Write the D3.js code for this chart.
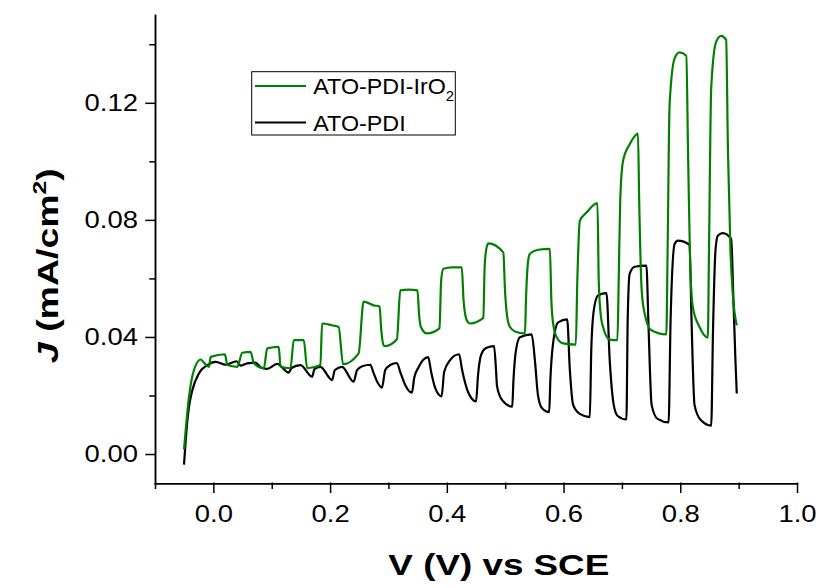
<!DOCTYPE html>
<html>
<head>
<meta charset="utf-8">
<script src="https://cdn.jsdelivr.net/npm/d3@7"></script>
<style>
    body { margin: 0; background: #fff; }
    svg text { font-family: "Liberation Sans", Arial, sans-serif; }
</style>
</head>
<body>
<div id="app"></div>
<script>
// ATO-PDI-IrO2 (green), potential in V vs SCE and current density in mA/cm2
const vIrO2 = [-0.0503, -0.0417, -0.0332, -0.0217, -0.0161, -0.0075, -0.0046, 0.0198, 0.0239, 0.0410,
    0.0496, 0.0638, 0.0694, 0.0865, 0.0923, 0.1121, 0.1150, 0.1321, 0.1378, 0.1549,
    0.1607, 0.1834, 0.1863, 0.2034, 0.2147, 0.2222, 0.2489, 0.2574, 0.2745, 0.2848,
    0.2877, 0.2916, 0.2945, 0.3145, 0.3202, 0.3344, 0.3497, 0.3526, 0.3556, 0.3658,
    0.3874, 0.3903, 0.3942, 0.4085, 0.4256, 0.4287, 0.4342, 0.4398, 0.4626, 0.4646,
    0.4672, 0.4711, 0.4968, 0.4997, 0.5031, 0.5082, 0.5168, 0.5339, 0.5356, 0.5390,
    0.5424, 0.5566, 0.5766, 0.5791, 0.5826, 0.5880, 0.5993, 0.6210, 0.6236, 0.6279,
    0.6393, 0.6581, 0.6603, 0.6638, 0.6677, 0.6791, 0.6923, 0.6945, 0.6971, 0.7019,
    0.7133, 0.7275, 0.7296, 0.7339, 0.7390, 0.7504, 0.7761, 0.7783, 0.7817, 0.7903,
    0.7988, 0.8103, 0.8133, 0.8168, 0.8215, 0.8330, 0.8472, 0.8492, 0.8530, 0.8615,
    0.8701, 0.8786, 0.8817, 0.8860, 0.8899, 0.8968];
const jIrO2 = [0.0015, 0.0196, 0.0287, 0.0323, 0.0312, 0.0298, 0.0332, 0.0341, 0.0304, 0.0298,
    0.0346, 0.0349, 0.0310, 0.0293, 0.0361, 0.0366, 0.0298, 0.0293, 0.0389, 0.0389,
    0.0293, 0.0304, 0.0446, 0.0440, 0.0434, 0.0307, 0.0344, 0.0521, 0.0508, 0.0504,
    0.0423, 0.0372, 0.0369, 0.0392, 0.0559, 0.0562, 0.0559, 0.0474, 0.0434, 0.0412,
    0.0429, 0.0593, 0.0633, 0.0638, 0.0638, 0.0525, 0.0457, 0.0446, 0.0465, 0.0627,
    0.0695, 0.0720, 0.0689, 0.0559, 0.0474, 0.0434, 0.0419, 0.0412, 0.0525, 0.0654,
    0.0684, 0.0698, 0.0701, 0.0525, 0.0440, 0.0400, 0.0378, 0.0374, 0.0593, 0.0797,
    0.0825, 0.0857, 0.0593, 0.0474, 0.0434, 0.0391, 0.0389, 0.0593, 0.0865, 0.1001,
    0.1058, 0.1095, 0.0865, 0.0559, 0.0480, 0.0423, 0.0409, 0.0695, 0.1194, 0.1352,
    0.1372, 0.1361, 0.1035, 0.0661, 0.0502, 0.0434, 0.0398, 0.0695, 0.1250, 0.1409,
    0.1429, 0.1415, 0.1035, 0.0695, 0.0548, 0.0440];

// ATO-PDI (black)
const vPDI = [-0.0503, -0.0444, -0.0417, -0.0359, -0.0246, -0.0103, 0.0039, 0.0210, 0.0398, 0.0467,
    0.0581, 0.0723, 0.0809, 0.0923, 0.1094, 0.1292, 0.1338, 0.1492, 0.1692, 0.1732,
    0.1834, 0.2034, 0.2082, 0.2205, 0.2403, 0.2462, 0.2552, 0.2689, 0.2740, 0.2809,
    0.2889, 0.2945, 0.3031, 0.3145, 0.3202, 0.3287, 0.3402, 0.3441, 0.3509, 0.3680,
    0.3732, 0.3800, 0.3911, 0.3954, 0.4056, 0.4210, 0.4262, 0.4364, 0.4501, 0.4535,
    0.4586, 0.4672, 0.4809, 0.4843, 0.4860, 0.4945, 0.5121, 0.5142, 0.5185, 0.5253,
    0.5453, 0.5509, 0.5561, 0.5629, 0.5754, 0.5774, 0.5817, 0.5908, 0.6062, 0.6108,
    0.6164, 0.6279, 0.6450, 0.6475, 0.6518, 0.6591, 0.6735, 0.6791, 0.6860, 0.6928,
    0.7077, 0.7099, 0.7133, 0.7219, 0.7419, 0.7458, 0.7509, 0.7612, 0.7800, 0.7834,
    0.7903, 0.7959, 0.8159, 0.8193, 0.8244, 0.8347, 0.8530, 0.8561, 0.8603, 0.8643,
    0.8728, 0.8872, 0.8911, 0.8945, 0.8968];
const jPDI = [-0.0036, 0.0117, 0.0162, 0.0219, 0.0276, 0.0304, 0.0315, 0.0305, 0.0317, 0.0302,
    0.0310, 0.0312, 0.0297, 0.0291, 0.0308, 0.0278, 0.0294, 0.0304, 0.0264, 0.0290,
    0.0298, 0.0253, 0.0287, 0.0298, 0.0247, 0.0287, 0.0300, 0.0305, 0.0280, 0.0246,
    0.0227, 0.0287, 0.0304, 0.0311, 0.0280, 0.0236, 0.0210, 0.0260, 0.0294, 0.0331,
    0.0280, 0.0226, 0.0197, 0.0280, 0.0321, 0.0341, 0.0287, 0.0212, 0.0180, 0.0270,
    0.0338, 0.0362, 0.0369, 0.0287, 0.0232, 0.0185, 0.0162, 0.0253, 0.0355, 0.0399,
    0.0409, 0.0321, 0.0202, 0.0157, 0.0143, 0.0253, 0.0372, 0.0450, 0.0460, 0.0287,
    0.0168, 0.0137, 0.0126, 0.0355, 0.0491, 0.0542, 0.0550, 0.0321, 0.0168, 0.0130,
    0.0118, 0.0457, 0.0616, 0.0640, 0.0644, 0.0423, 0.0168, 0.0120, 0.0108, 0.0457,
    0.0718, 0.0729, 0.0715, 0.0457, 0.0168, 0.0117, 0.0097, 0.0423, 0.0695, 0.0746,
    0.0755, 0.0735, 0.0525, 0.0321, 0.0207];

const xMajor = [0.0, 0.2, 0.4, 0.6, 0.8, 1.0];
const xMinor = [-0.1, 0.1, 0.3, 0.5, 0.7, 0.9];
const yMajor = [0.00, 0.04, 0.08, 0.12];
const yMinor = [0.02, 0.06, 0.10, 0.14];
const seriesNames = ["ATO-PDI-IrO", "ATO-PDI"];
const seriesSub = ["2", ""];
const seriesColors = ["#008000", "#000000"];

const W = 816, H = 588;
const m = { t: 15, r: 19, b: 105, l: 155 };
const axisY = 483.3;

const svg = d3.select("#app").append("svg")
    .attr("width", W)
    .attr("height", H);

const xScale = d3.scaleLinear().domain([-0.1, 1.0]).range([m.l, W - m.r]);
const yScale = d3.scaleLinear().domain([-0.01, 0.15]).range([axisY, m.t]);

// horizontal factor that makes a text node span `target` px
function widen(node, target) {
    const w = node.getComputedTextLength();
    return target / w;
}

// ---- axes
const xAxisG = svg.append("g")
    .attr("transform", "translate(0," + axisY + ")")
    .call(d3.axisBottom(xScale).tickValues(xMajor).tickSize(9).tickSizeOuter(0)
        .tickPadding(12).tickFormat(d3.format(".1f")));
svg.append("g")
    .attr("transform", "translate(0," + axisY + ")")
    .call(d3.axisBottom(xScale).tickValues(xMinor).tickSize(5).tickSizeOuter(0).tickFormat(""));

const yAxisG = svg.append("g")
    .attr("transform", "translate(" + m.l + ",0)")
    .call(d3.axisLeft(yScale).tickValues(yMajor).tickSize(9).tickSizeOuter(0)
        .tickPadding(9).tickFormat(d3.format(".2f")));
svg.append("g")
    .attr("transform", "translate(" + m.l + ",0)")
    .call(d3.axisLeft(yScale).tickValues(yMinor).tickSize(5).tickSizeOuter(0).tickFormat(""));

svg.selectAll(".domain, .tick line")
    .attr("stroke", "#000")
    .attr("stroke-width", 1.5)
    .attr("stroke-linecap", "square");

svg.selectAll(".tick text")
    .attr("font-family", "Liberation Sans, Arial, sans-serif")
    .attr("font-size", 24.5)
    .attr("fill", "#000");

xAxisG.selectAll(".tick text")
    .attr("transform", "scale(1.12,1)");
yAxisG.selectAll(".tick text")
    .attr("x", 0)
    .attr("transform", "translate(-17,0) scale(1.12,1)");

// ---- curves
const line = d3.line()
    .x(d => xScale(d[0]))
    .y(d => yScale(d[1]))
    .curve(d3.curveMonotoneX);

const seriesData = [
    vIrO2.map((v, i) => [v, jIrO2[i]]),
    vPDI.map((v, i) => [v, jPDI[i]])
];

// black first so the green sits on top like the original
[1, 0].forEach(k => {
    svg.append("path")
        .datum(seriesData[k])
        .attr("fill", "none")
        .attr("stroke", seriesColors[k])
        .attr("stroke-width", 2.2)
        .attr("stroke-linejoin", "round")
        .attr("d", line);
});

// ---- legend
const legend = svg.append("g").attr("id", "legend");
legend.append("rect")
    .attr("x", 251.7).attr("y", 71.7)
    .attr("width", 203.6).attr("height", 63.3)
    .attr("fill", "#fff")
    .attr("stroke", "#000")
    .attr("stroke-width", 1);

seriesNames.forEach((name, i) => {
    const ly = 86 + i * 36.5;
    legend.append("line")
        .attr("x1", 255).attr("x2", 306)
        .attr("y1", ly).attr("y2", ly)
        .attr("stroke", seriesColors[i])
        .attr("stroke-width", 2.2);
    const t = legend.append("text")
        .attr("transform", "translate(313.3," + (ly + 8.3) + ") scale(1.06,1)")
        .attr("font-size", 22)
        .attr("fill", "#000")
        .text(name);
    if (seriesSub[i]) {
        t.append("tspan")
            .attr("font-size", 14)
            .attr("dy", 7)
            .text(seriesSub[i]);
    }
});

// ---- axis titles
const xTitle = svg.append("text")
    .attr("text-anchor", "middle")
    .attr("font-size", 29)
    .attr("font-weight", "bold")
    .attr("fill", "#000")
    .text("V (V) vs SCE");
xTitle.attr("transform", "translate(498.8,575) scale(" + widen(xTitle.node(), 221) + ",1)");

const yTitle = svg.append("text")
    .attr("text-anchor", "middle")
    .attr("font-size", 29)
    .attr("font-weight", "bold")
    .attr("fill", "#000");
yTitle.append("tspan").attr("font-style", "italic").text("J");
yTitle.append("tspan").text(" (mA/cm");
yTitle.append("tspan").attr("font-size", 19).attr("dy", -12).text("2");
yTitle.append("tspan").attr("dy", 12).text(")");
yTitle.attr("transform", "translate(58,265.7) rotate(-90) scale(" + widen(yTitle.node(), 195) + ",1)");
</script>
</body>
</html>
